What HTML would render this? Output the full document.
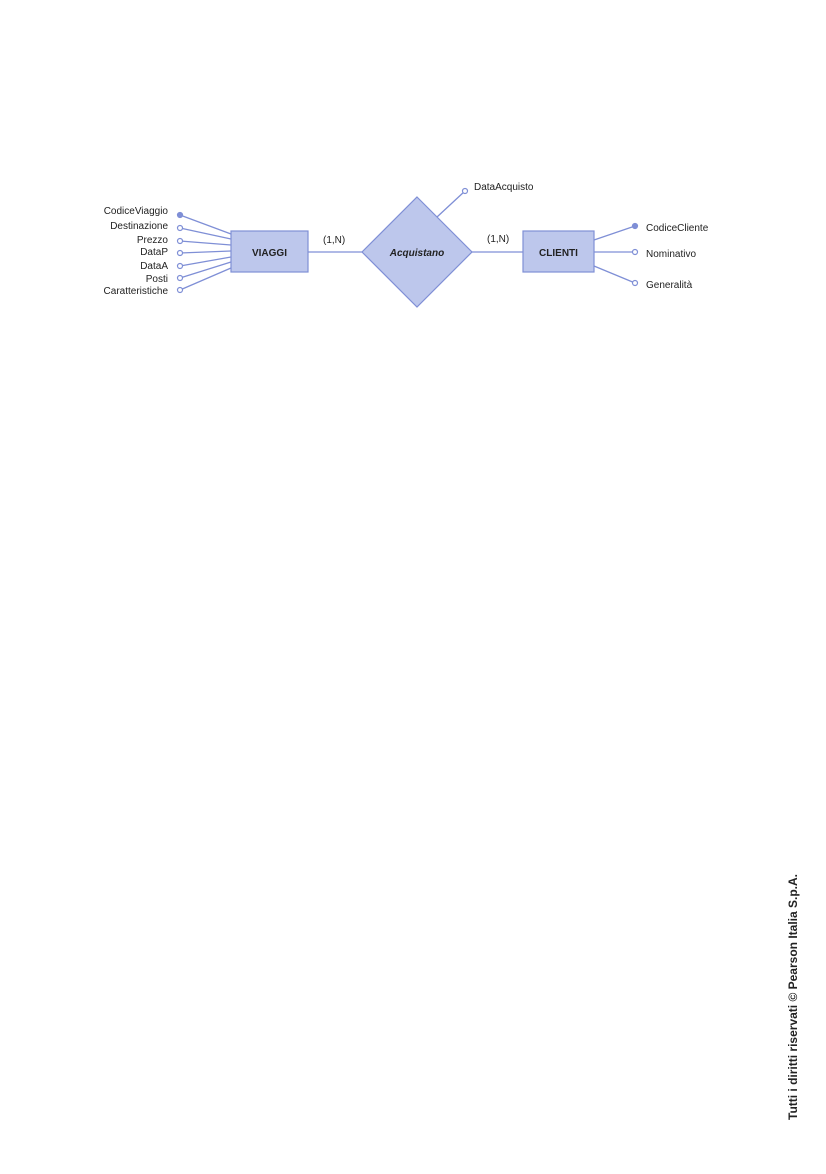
<!DOCTYPE html>
<html><head><meta charset="utf-8"><style>
body{margin:0;background:#fff;width:826px;height:1169px;overflow:hidden}
svg text{font-family:"Liberation Sans",sans-serif;fill:#222}
</style></head><body>
<svg width="826" height="1169" xmlns="http://www.w3.org/2000/svg">
<g stroke="#7f8fd6" stroke-width="1.3" fill="none">
<line x1="180" y1="215" x2="231" y2="234"/>
<line x1="180" y1="228" x2="231" y2="239"/>
<line x1="180" y1="241" x2="231" y2="245"/>
<line x1="180" y1="253" x2="231" y2="251"/>
<line x1="180" y1="266" x2="231" y2="257"/>
<line x1="180" y1="278" x2="231" y2="262"/>
<line x1="180" y1="290" x2="231" y2="268"/>
<line x1="308" y1="252" x2="362" y2="252"/>
<line x1="472" y1="252" x2="523" y2="252"/>
<line x1="437" y1="217" x2="465" y2="191"/>
<line x1="594" y1="240" x2="635" y2="226"/>
<line x1="594" y1="252" x2="635" y2="252"/>
<line x1="594" y1="266" x2="635" y2="283"/>
</g>
<g stroke="#7f8fd6" stroke-width="1.2" fill="#fff">
<circle cx="180" cy="215" r="2.5" fill="#7f8fd6"/>
<circle cx="180" cy="228" r="2.5"/><circle cx="180" cy="241" r="2.5"/>
<circle cx="180" cy="253" r="2.5"/><circle cx="180" cy="266" r="2.5"/>
<circle cx="180" cy="278" r="2.5"/><circle cx="180" cy="290" r="2.5"/>
<circle cx="465" cy="191" r="2.5"/>
<circle cx="635" cy="226" r="2.5" fill="#7f8fd6"/>
<circle cx="635" cy="252" r="2.5"/><circle cx="635" cy="283" r="2.5"/>
</g>
<rect x="231" y="231" width="77" height="41" fill="#bdc7ec" stroke="#7f8fd6" stroke-width="1.2"/>
<rect x="523" y="231" width="71" height="41" fill="#bdc7ec" stroke="#7f8fd6" stroke-width="1.2"/>
<polygon points="417,197 472,252 417,307 362,252" fill="#bdc7ec" stroke="#7f8fd6" stroke-width="1.2"/>
<g font-size="10" text-anchor="end">
<text x="168" y="214">CodiceViaggio</text>
<text x="168" y="229">Destinazione</text>
<text x="168" y="243">Prezzo</text>
<text x="168" y="255">DataP</text>
<text x="168" y="269">DataA</text>
<text x="168" y="282">Posti</text>
<text x="168" y="294">Caratteristiche</text>
</g>
<g font-size="10">
<text x="474" y="190">DataAcquisto</text>
<text x="646" y="231">CodiceCliente</text>
<text x="646" y="257">Nominativo</text>
<text x="646" y="288">Generalità</text>
<text x="323" y="243">(1,N)</text>
<text x="487" y="242">(1,N)</text>
</g>
<text x="269.5" y="256" font-size="10" font-weight="bold" text-anchor="middle">VIAGGI</text>
<text x="558.5" y="256" font-size="10" font-weight="bold" text-anchor="middle">CLIENTI</text>
<text x="417" y="256" font-size="10" font-weight="bold" font-style="italic" text-anchor="middle">Acquistano</text>
<text transform="translate(797,1120) rotate(-90)" font-size="12" font-weight="bold">Tutti i diritti riservati © Pearson Italia S.p.A.</text>
</svg>
</body></html>
